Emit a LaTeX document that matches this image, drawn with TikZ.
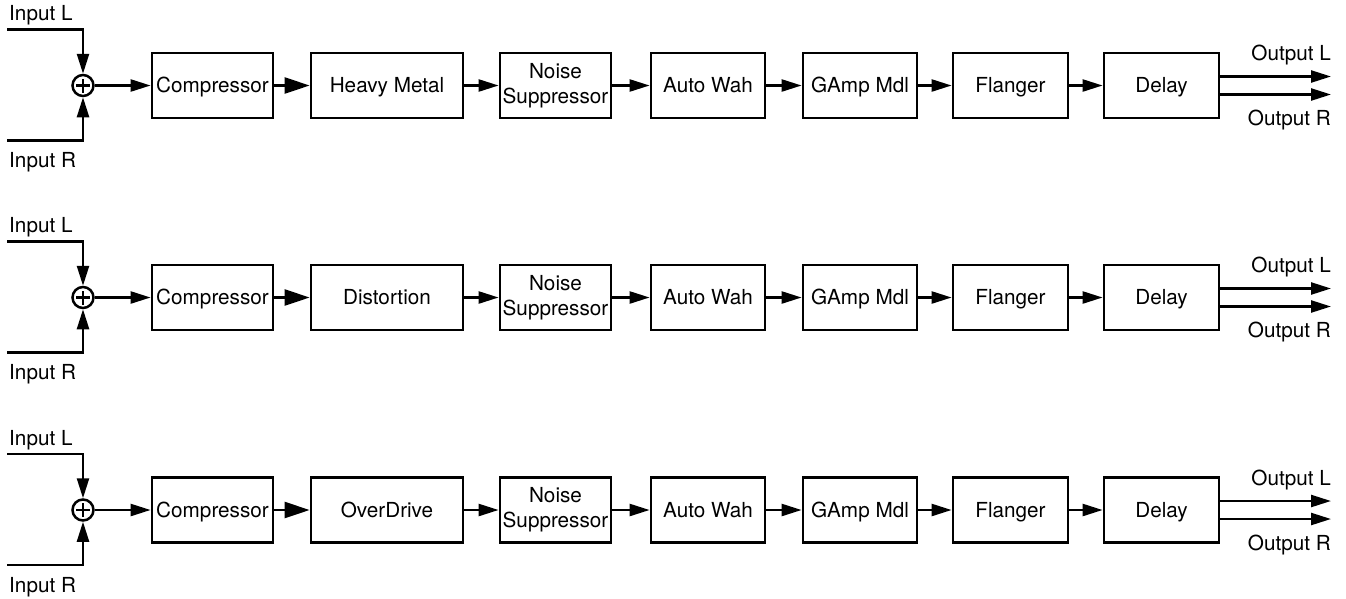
\documentclass[tikz,border=0pt]{standalone}
\usepackage{fontspec}
\setmainfont{TeX Gyre Heros}
\usetikzlibrary{arrows.meta}
\newcommand\lbl{\fontsize{20.7}{25}\selectfont}
\begin{document}
\begin{tikzpicture}[x=1pt,y=-1pt,
  box/.style={draw, line width=2.8pt, minimum height=65pt, inner sep=0pt, font=\lbl, text height=14.9pt, text depth=0pt},
  boxtwo/.style={draw, line width=2.8pt, minimum height=65pt, inner sep=0pt, font=\lbl, align=center},
  conn/.style={line width=2.4pt},
  arr/.style={conn, -{Triangle[length=20pt,width=12pt]}},
  bigarr/.style={conn, -{Triangle[length=25pt,width=16pt]}},
  sumnode/.style={circle, draw, line width=2.5pt, minimum size=21pt, inner sep=0pt},
  lab/.style={font=\lbl, inner sep=0pt}]
\useasboundingbox (0,0) rectangle (1346,598);
\foreach \r/\fx/\ry in {1/Heavy Metal/85.5, 2/Distortion/297.5, 3/OverDrive/510} {
  \node[sumnode] (sum\r) at (83,\ry) {};
  \draw[line width=2.2pt] ([xshift=-7pt]sum\r.center) -- ([xshift=7pt]sum\r.center);
  \draw[line width=2.2pt] ([yshift=-7pt]sum\r.center) -- ([yshift=7pt]sum\r.center);
  \node[box, minimum width=121pt] (comp\r) at (212.5,\ry) {Compressor};
  \node[box, minimum width=152pt] (fx\r) at (387,\ry) {\fx};
  \node[boxtwo, minimum width=111pt] (ns\r) at (555.5,\ry) {Noise\\Suppressor};
  \node[box, minimum width=114pt] (aw\r) at (708,\ry) {Auto Wah};
  \node[box, minimum width=114pt] (ga\r) at (860,\ry) {GAmp Mdl};
  \node[box, minimum width=115pt] (fl\r) at (1010.5,\ry) {Flanger};
  \node[box, minimum width=115pt] (de\r) at (1161.5,\ry) {Delay};
  \coordinate (inL\r) at (7,\ry-56);
  \coordinate (inR\r) at (7,\ry+55);
  \node[lab, anchor=base west] (linL\r) at (9,\ry-65) {Input L};
  \node[lab, anchor=base west] (linR\r) at (9,\ry+82) {Input R};
  \draw[arr] (inL\r) -| (sum\r);
  \draw[arr] (inR\r) -| (sum\r);
  \draw[arr] (sum\r) -- (comp\r);
  \draw[bigarr] (comp\r) -- (fx\r);
  \draw[arr] (fx\r) -- (ns\r);
  \draw[arr] (ns\r) -- (aw\r);
  \draw[arr] (aw\r) -- (ga\r);
  \draw[arr] (ga\r) -- (fl\r);
  \draw[arr] (fl\r) -- (de\r);
  \coordinate (oL\r) at (1331,\ry-9);
  \coordinate (oR\r) at (1331,\ry+9);
  \draw[arr] (de\r.east |- oL\r) -- (oL\r);
  \draw[arr] (de\r.east |- oR\r) -- (oR\r);
  \node[lab, anchor=base east] (loutL\r) at (1331,\ry-25) {Output L};
  \node[lab, anchor=base east] (loutR\r) at (1331,\ry+40) {Output R};
}
\end{tikzpicture}
\end{document}
